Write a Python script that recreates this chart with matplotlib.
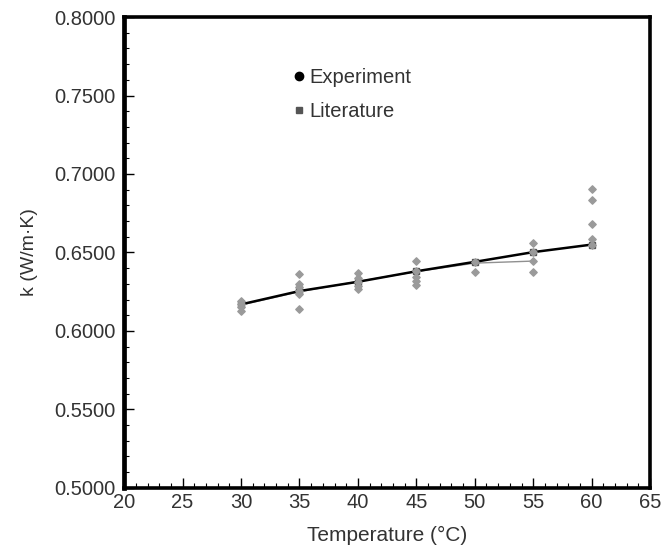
import matplotlib
matplotlib.use("Agg")
import matplotlib.pyplot as plt
from matplotlib.ticker import MultipleLocator, FormatStrFormatter
from matplotlib.lines import Line2D

plt.rcParams['font.family'] = ['Liberation Sans', 'DejaVu Sans']

# Experimental scatter points (temperature, k)
exp_T = [30, 30, 30, 30,
         35, 35, 35, 35, 35, 35,
         40, 40, 40, 40, 40,
         45, 45, 45, 45, 45,
         50, 50,
         55, 55, 55, 55,
         60, 60, 60, 60, 60]
exp_k = [0.6188, 0.6170, 0.6150, 0.6130,
         0.6360, 0.6300, 0.6283, 0.6254, 0.6233, 0.6142,
         0.6370, 0.6339, 0.6313, 0.6286, 0.6264,
         0.6445, 0.6380, 0.6345, 0.6317, 0.6290,
         0.6440, 0.6377,
         0.6561, 0.6502, 0.6445, 0.6377,
         0.6904, 0.6837, 0.6682, 0.6587, 0.6550]

# Literature line (with square markers)
lit_T = [30, 35, 40, 45, 50, 55, 60]
lit_k = [0.6169, 0.6254, 0.6313, 0.6380, 0.6440, 0.6502, 0.6550]

# Experimental mean trend (thin gray line)
mean_T = [30, 35, 40, 45, 50, 55]
mean_k = [0.6165, 0.6250, 0.6315, 0.6378, 0.6432, 0.6445]

fig = plt.figure(figsize=(6.64, 5.5), dpi=100)
ax = fig.add_axes([0.187, 0.113, 0.792, 0.856])

ax.plot(mean_T, mean_k, color='#909090', lw=1.0, zorder=2)
ax.plot(lit_T, lit_k, color='black', lw=1.8, marker='s', ms=4,
        markerfacecolor='#555555', markeredgecolor='#555555', zorder=3)
ax.scatter(exp_T, exp_k, marker='D', s=14, color='#9a9a9a', zorder=4)

ax.set_xlim(20, 65)
ax.set_ylim(0.5, 0.8)
ax.xaxis.set_major_locator(MultipleLocator(5))
ax.xaxis.set_minor_locator(MultipleLocator(1))
ax.yaxis.set_major_locator(MultipleLocator(0.05))
ax.yaxis.set_minor_locator(MultipleLocator(0.01))
ax.yaxis.set_major_formatter(FormatStrFormatter('%.4f'))

ax.tick_params(axis='both', which='both', direction='in', top=False, right=False,
               labelsize=14.5, colors='black', labelcolor='#333333')
ax.tick_params(which='major', length=7, width=1)
ax.tick_params(which='minor', length=3.6, width=0.8)
ax.tick_params(axis='x', pad=4)
ax.tick_params(axis='y', pad=6)

for s in ax.spines.values():
    s.set_linewidth(2.6)
ax.spines['left'].set_linewidth(3.4)

ax.set_xlabel('Temperature (°C)', fontsize=15, color='#333333', labelpad=10)
ax.set_ylabel('k (W/m·K)', fontsize=14, color='#333333', labelpad=12)

handles = [Line2D([], [], marker='o', color='black', ls='none', ms=6),
           Line2D([], [], marker='s', color='#555555', ls='none', ms=4)]
fig.legend(handles, ['Experiment', 'Literature'], loc='upper left',
           bbox_to_anchor=(0.438, 0.876), frameon=False, fontsize=14.5,
           borderpad=0, borderaxespad=0, handletextpad=0.1, handlelength=0.8,
           labelspacing=0.75, labelcolor='#333333')

fig.savefig('out.png', dpi=100)
